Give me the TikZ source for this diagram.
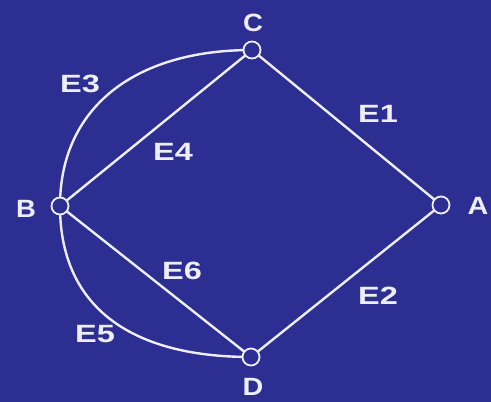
\documentclass[tikz,border=0pt]{standalone}
\usepackage{fontspec}
\setmainfont{Liberation Sans}
\definecolor{bgblue}{RGB}{44,46,145}
\definecolor{wline}{RGB}{238,238,250}
\newcommand{\wlab}[2]{\scalebox{#1}[1]{#2}}
\begin{document}
\begin{tikzpicture}[x=1pt,y=1pt,
  vtx/.style={circle,draw=wline,fill=bgblue,line width=1.8pt,minimum size=17pt,inner sep=0pt},
  edge/.style={draw=wline,line width=2.4pt},
  lab/.style={text=wline,font=\fontsize{25}{25}\selectfont\bfseries,inner sep=0pt}]
\fill[bgblue] (0,0) rectangle (491,402);
\useasboundingbox (0,0) rectangle (491,402);
\coordinate (pA) at (441,197);
\coordinate (pB) at (60,196);
\coordinate (pC) at (252,352);
\coordinate (pD) at (251,45);
\draw[edge] (pC) -- (pA);
\draw[edge] (pA) -- (pD);
\draw[edge] (pB) -- (pC);
\draw[edge] (pB) -- (pD);
\draw[edge] (pB) .. controls (60,293) and (133,352) .. (pC);
\draw[edge] (pB) .. controls (60,98) and (127,45) .. (pD);
\node[vtx] (A) at (pA) {};
\node[vtx] (B) at (pB) {};
\node[vtx] (C) at (pC) {};
\node[vtx] (D) at (pD) {};
\node[lab] (lC) at (253,379) {\wlab{1.1}{C}};
\node[lab] (lA) at (478,196) {\wlab{1.15}{A}};
\node[lab] (lB) at (26,193) {\wlab{1.1}{B}};
\node[lab] (lD) at (253,15) {\wlab{1.15}{D}};
\node[lab] (e1) at (378,288) {\wlab{1.3}{E1}};
\node[lab] (e2) at (378,106) {\wlab{1.3}{E2}};
\node[lab] (e3) at (80,318) {\wlab{1.3}{E3}};
\node[lab] (e4) at (173,250) {\wlab{1.3}{E4}};
\node[lab] (e5) at (95,68) {\wlab{1.3}{E5}};
\node[lab] (e6) at (182,131) {\wlab{1.3}{E6}};
\end{tikzpicture}
\end{document}
